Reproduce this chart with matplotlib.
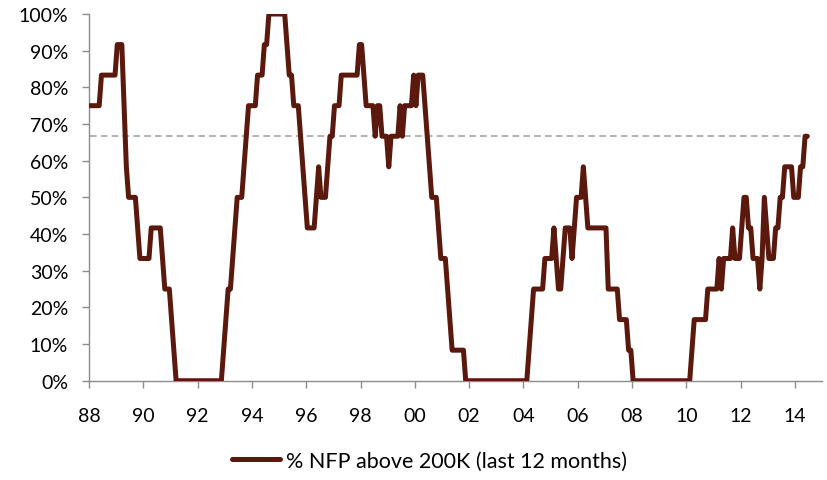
import matplotlib
matplotlib.use('Agg')

import numpy as np
import matplotlib.pyplot as plt

plt.rcParams['font.family'] = ['Lato', 'DejaVu Sans']

# months (out of the last 12) with NFP above 200K, one row per year, Jan 1988 - Jun 2014
months_above = [
    9, 9, 9, 9, 9, 10, 10, 10, 10, 10, 10, 10,      # 1988
    11, 11, 11, 9, 7, 6, 6, 6, 6, 5, 4, 4,          # 1989
    4, 4, 4, 5, 5, 5, 5, 5, 4, 3, 3, 3,             # 1990
    2, 1, 0, 0, 0, 0, 0, 0, 0, 0, 0, 0,             # 1991
    0, 0, 0, 0, 0, 0, 0, 0, 0, 0, 0, 1,             # 1992
    2, 3, 3, 4, 5, 6, 6, 6, 7, 8, 9, 9,             # 1993
    9, 9, 10, 10, 10, 11, 11, 12, 12, 12, 12, 12,   # 1994
    12, 12, 12, 11, 10, 10, 9, 9, 9, 8, 7, 6,       # 1995
    5, 5, 5, 5, 6, 7, 6, 6, 6, 7, 8, 8,             # 1996
    9, 9, 9, 10, 10, 10, 10, 10, 10, 10, 10, 11,    # 1997
    11, 10, 9, 9, 9, 9, 8, 9, 9, 8, 8, 8,           # 1998
    7, 8, 8, 8, 8, 9, 8, 9, 9, 9, 9, 10,            # 1999
    9, 10, 10, 10, 9, 8, 7, 6, 6, 6, 5, 4,          # 2000
    4, 4, 3, 2, 1, 1, 1, 1, 1, 1, 0, 0,             # 2001
    0, 0, 0, 0, 0, 0, 0, 0, 0, 0, 0, 0,             # 2002
    0, 0, 0, 0, 0, 0, 0, 0, 0, 0, 0, 0,             # 2003
    0, 0, 1, 2, 3, 3, 3, 3, 3, 4, 4, 4,             # 2004
    4, 5, 4, 3, 3, 4, 5, 5, 5, 4, 5, 6,             # 2005
    6, 6, 7, 6, 5, 5, 5, 5, 5, 5, 5, 5,             # 2006
    5, 3, 3, 3, 3, 3, 2, 2, 2, 2, 1, 1,             # 2007
    0, 0, 0, 0, 0, 0, 0, 0, 0, 0, 0, 0,             # 2008
    0, 0, 0, 0, 0, 0, 0, 0, 0, 0, 0, 0,             # 2009
    0, 0, 1, 2, 2, 2, 2, 2, 2, 3, 3, 3,             # 2010
    3, 3, 4, 3, 4, 4, 4, 4, 5, 4, 4, 4,             # 2011
    5, 6, 6, 5, 5, 4, 4, 4, 3, 4, 6, 5,             # 2012
    4, 4, 4, 5, 5, 6, 6, 7, 7, 7, 7, 6,             # 2013
    6, 6, 7, 7, 8, 8,                               # 2014
]
threshold = 8  # two thirds of the last 12 months
year_labels = ['88', '90', '92', '94', '96', '98', '00', '02', '04', '06', '08', '10', '12', '14']
n_categories = 27 * 12  # axis runs Jan 1988 - Dec 2014

pct = np.array(months_above) / 12 * 100
x = np.arange(len(pct)) + 0.5

fig = plt.figure(figsize=(8.28, 4.81), dpi=100)
ax = fig.add_axes([0.1075, 0.2064, 0.8853, 0.7624])

ax.plot(x, np.full(len(pct), threshold / 12 * 100), color='#a6a6a6', lw=1.2,
        linestyle=(0, (4, 2.5)), zorder=2)
line, = ax.plot(x, pct, color='#5a190c', lw=3.6, solid_joinstyle='round',
                solid_capstyle='round', zorder=3,
                label='% NFP above 200K (last 12 months)')

ax.set_xlim(0, n_categories)
ax.set_ylim(0, 100)
ax.set_xticks(np.arange(len(year_labels)) * 24)
ax.set_xticklabels(year_labels)
ax.set_yticks(np.arange(0, 101, 10))
ax.set_yticklabels([f'{v}%' for v in range(0, 101, 10)])

for s in ['top', 'right']:
    ax.spines[s].set_visible(False)
for s in ['left', 'bottom']:
    ax.spines[s].set_color('#8c8c8c')
    ax.spines[s].set_linewidth(1.0)
ax.tick_params(axis='both', direction='out', length=5, width=1.0, color='#8c8c8c',
               labelsize=14, labelcolor='black')
ax.tick_params(axis='y', pad=10)
ax.tick_params(axis='x', pad=14)

fig.legend(handles=[line], loc='center', bbox_to_anchor=(0.519, 0.0395),
           frameon=False, fontsize=15.5, handlelength=2.2, handletextpad=0.3)

fig.savefig('out.png', dpi=100)
